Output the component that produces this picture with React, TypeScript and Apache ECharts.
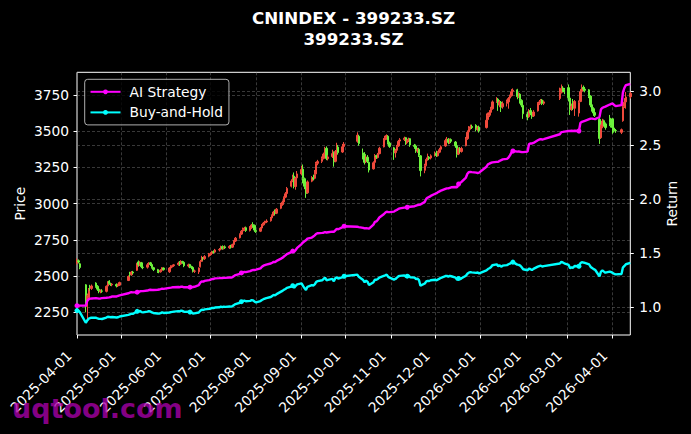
import React, { useEffect, useRef } from "react";
import * as echarts from "echarts";

const FONT = '"DejaVu Sans", "Liberation Sans", sans-serif';
const UP = "#f04a3c";
const DOWN = "#6cf23c";

// trading days: [year-month, days]
const tradingDays: [string, number[]][] = [
  ["2025-04", [1, 2, 3, 7, 8, 9, 10, 11, 14, 15, 16, 17, 18, 21, 22, 23, 24, 25, 28, 29, 30]],
  ["2025-05", [6, 7, 8, 9, 12, 13, 14, 15, 16, 19, 20, 21, 22, 23, 26, 27, 28, 29, 30]],
  ["2025-06", [3, 4, 5, 6, 9, 10, 11, 12, 13, 16, 17, 18, 19, 20, 23, 24, 25, 26, 27, 30]],
  ["2025-07", [1, 2, 3, 4, 7, 8, 9, 10, 11, 14, 15, 16, 17, 18, 21, 22, 23, 24, 25, 28, 29, 30, 31]],
  ["2025-08", [1, 4, 5, 6, 7, 8, 11, 12, 13, 14, 15, 18, 19, 20, 21, 22, 25, 26, 27, 28, 29]],
  ["2025-09", [1, 2, 3, 4, 5, 8, 9, 10, 11, 12, 15, 16, 17, 18, 19, 22, 23, 24, 25, 26, 29, 30]],
  ["2025-10", [9, 10, 13, 14, 15, 16, 17, 20, 21, 22, 23, 24, 27, 28, 29, 30, 31]],
  ["2025-11", [3, 4, 5, 6, 7, 10, 11, 12, 13, 14, 17, 18, 19, 20, 21, 24, 25, 26, 27, 28]],
  ["2025-12", [1, 2, 3, 4, 5, 8, 9, 10, 11, 12, 15, 16, 17, 18, 19, 22, 23, 24, 25, 26, 29, 30, 31]],
  ["2026-01", [5, 6, 7, 8, 9, 12, 13, 14, 15, 16, 19, 20, 21, 22, 23, 26, 27, 28, 29, 30]],
  ["2026-02", [2, 3, 4, 5, 6, 9, 10, 11, 12, 13, 24, 25, 26, 27]],
  ["2026-03", [2, 3, 4, 5, 6, 9, 10, 11, 12, 13, 16, 17, 18, 19, 20, 23, 24, 25, 26, 27, 30, 31]],
  ["2026-04", [1, 2, 3, 7, 8, 9, 10, 13]],
];

// [open, close, low, high]
const ohlc: number[][] = [
  [2590,2605,2580,2622],[2606,2598,2588,2615],[2585,2560,2548,2592],[2440,2300,2250,2445],[2290,2365,2200,2380],
  [2350,2405,2330,2418],[2425,2420,2400,2440],[2415,2432,2405,2442],[2452,2428,2420,2458],[2430,2410,2398,2438],
  [2410,2398,2382,2418],[2392,2398,2382,2408],[2398,2396,2385,2410],[2395,2430,2388,2436],[2432,2452,2428,2465],
  [2466,2448,2440,2472],[2446,2440,2432,2455],[2440,2445,2430,2452],[2442,2432,2422,2450],[2432,2440,2425,2448],
  [2438,2456,2432,2462],
  [2470,2498,2466,2505],[2512,2508,2496,2530],[2510,2528,2502,2535],[2528,2522,2512,2536],[2540,2585,2536,2592],
  [2598,2580,2565,2608],[2578,2595,2570,2602],[2592,2565,2555,2598],[2562,2560,2548,2570],[2562,2578,2552,2590],
  [2580,2590,2572,2596],[2592,2582,2570,2598],[2580,2560,2552,2585],[2558,2545,2535,2564],[2545,2532,2522,2550],
  [2532,2530,2520,2542],[2530,2540,2524,2548],[2540,2558,2532,2562],[2556,2545,2538,2560],
  [2530,2556,2522,2562],[2556,2568,2550,2575],[2568,2572,2560,2580],[2572,2578,2565,2584],[2580,2590,2572,2600],
  [2592,2582,2570,2604],[2584,2602,2578,2610],[2600,2596,2585,2606],[2595,2572,2562,2600],[2570,2578,2560,2586],
  [2580,2566,2555,2585],[2565,2560,2548,2572],[2560,2532,2525,2566],[2534,2535,2522,2545],[2530,2556,2515,2560],
  [2565,2600,2560,2612],[2602,2625,2598,2640],[2625,2618,2608,2632],[2620,2635,2612,2645],[2638,2648,2630,2660],
  [2648,2655,2640,2665],[2656,2668,2648,2675],[2668,2665,2655,2678],[2666,2680,2660,2688],[2680,2684,2670,2694],
  [2686,2702,2680,2710],[2704,2690,2682,2712],[2690,2700,2684,2708],[2702,2696,2688,2712],[2696,2705,2688,2714],
  [2706,2700,2690,2716],[2700,2718,2694,2724],[2718,2742,2714,2748],[2742,2762,2736,2770],[2765,2788,2760,2795],
  [2790,2810,2784,2818],[2812,2820,2800,2835],[2820,2832,2812,2840],[2834,2815,2805,2842],[2815,2832,2808,2845],
  [2834,2852,2826,2860],[2856,2848,2835,2872],[2850,2818,2805,2856],
  [2815,2808,2798,2825],[2810,2830,2804,2838],[2832,2852,2826,2860],[2854,2866,2848,2874],[2866,2872,2858,2882],
  [2874,2880,2866,2892],[2882,2900,2876,2908],[2902,2918,2896,2926],[2920,2942,2914,2950],[2945,2932,2920,2960],
  [2934,2962,2928,2970],[2968,2992,2962,3005],[2994,3010,2985,3022],[3012,3042,3005,3050],[3045,3068,3038,3080],
  [3070,3105,3062,3115],[3120,3155,3112,3168],[3158,3180,3148,3200],[3190,3120,3105,3215],[3118,3175,3096,3185],
  [3178,3205,3170,3225],
  [3205,3235,3195,3262],[3238,3175,3140,3270],[3172,3120,3100,3180],[3118,3070,3040,3130],[3075,3150,3068,3160],
  [3155,3178,3148,3190],[3180,3170,3160,3200],[3175,3200,3168,3232],[3205,3275,3200,3288],[3278,3290,3265,3302],
  [3292,3310,3280,3325],[3312,3342,3305,3352],[3345,3378,3338,3392],[3382,3312,3300,3395],[3310,3322,3298,3335],
  [3325,3345,3315,3372],[3350,3288,3255,3360],[3292,3360,3285,3370],[3365,3385,3355,3420],[3390,3352,3338,3405],
  [3356,3392,3350,3412],[3395,3410,3385,3425],
  [3430,3472,3420,3492],[3465,3415,3400,3475],[3350,3335,3305,3380],[3340,3285,3270,3355],[3288,3322,3280,3332],
  [3320,3292,3280,3335],[3285,3232,3215,3290],[3240,3282,3235,3292],[3285,3332,3280,3342],[3330,3322,3308,3338],
  [3318,3342,3312,3350],[3345,3382,3340,3392],[3392,3438,3388,3452],[3440,3452,3430,3468],[3455,3470,3440,3478],
  [3465,3420,3408,3472],[3418,3395,3385,3428],
  [3385,3350,3302,3392],[3352,3365,3318,3378],[3368,3395,3360,3405],[3398,3430,3392,3440],[3432,3440,3422,3452],
  [3442,3452,3432,3462],[3455,3420,3405,3460],[3420,3432,3410,3442],[3435,3445,3425,3455],[3448,3405,3392,3452],
  [3402,3395,3378,3412],[3398,3362,3350,3408],[3365,3372,3350,3385],[3375,3335,3322,3385],[3330,3228,3188,3335],
  [3230,3262,3210,3275],[3265,3305,3258,3318],[3308,3318,3296,3345],[3320,3312,3300,3328],[3315,3330,3305,3340],
  [3335,3345,3325,3360],[3348,3332,3322,3365],[3330,3352,3325,3362],[3355,3372,3348,3385],[3375,3392,3368,3402],
  [3398,3435,3392,3448],[3438,3442,3425,3460],[3445,3422,3410,3452],[3420,3440,3412,3448],[3442,3430,3418,3450],
  [3425,3398,3385,3432],[3400,3340,3318,3405],[3342,3378,3335,3388],[3380,3362,3350,3390],[3360,3380,3352,3392],
  [3400,3445,3395,3460],[3448,3492,3440,3505],[3495,3520,3488,3535],[3522,3530,3510,3545],[3532,3525,3515,3545],
  [3540,3512,3498,3548],[3515,3522,3502,3535],[3528,3502,3490,3538],
  [3525,3575,3518,3622],[3580,3608,3570,3628],[3610,3628,3598,3645],[3630,3652,3620,3668],[3655,3702,3648,3712],
  [3705,3722,3695,3735],[3720,3680,3640,3728],[3682,3702,3665,3715],[3700,3665,3632,3708],[3668,3690,3655,3705],
  [3692,3705,3670,3718],[3702,3725,3655,3735],[3728,3742,3715,3752],[3745,3772,3738,3790],[3775,3782,3765,3795],
  [3785,3738,3720,3792],[3740,3758,3730,3768],[3755,3715,3690,3762],[3712,3680,3665,3720],[3678,3620,3585,3690],
  [3615,3598,3575,3635],[3600,3640,3592,3652],[3642,3625,3610,3660],[3628,3602,3585,3640],[3605,3632,3598,3645],
  [3640,3688,3635,3700],[3690,3702,3680,3715],[3705,3712,3695,3722],[3715,3690,3680,3722],[3692,3702,3680,3712],
  [3725,3765,3715,3800],[3768,3795,3760,3822],[3798,3785,3770,3810],[3785,3770,3755,3798],
  [3800,3730,3705,3822],[3728,3650,3612,3735],[3652,3672,3640,3690],[3700,3660,3645,3722],[3658,3705,3605,3715],
  [3625,3698,3600,3712],[3705,3772,3700,3790],[3775,3800,3765,3822],[3802,3790,3775,3815],[3790,3782,3768,3805],
  [3785,3740,3728,3790],[3742,3680,3665,3748],[3682,3652,3635,3690],[3655,3625,3605,3665],[3628,3610,3598,3640],
  [3582,3450,3412,3590],[3455,3530,3448,3545],[3532,3570,3520,3585],[3572,3548,3535,3580],[3550,3525,3510,3560],
  [3590,3560,3535,3612],[3565,3540,3525,3575],
  [3585,3525,3482,3590],[3522,3505,3490,3530],[3505,3502,3488,3515],[3492,3510,3480,3518],[3572,3668,3565,3720],
  [3672,3700,3660,3728],[3702,3735,3655,3770],[3738,3760,3725,3772],
];

const aiStrategy: number[] = [
  1.015,1.015,1.016,1.016,1.060,1.075,1.080,1.082,1.085,1.083,1.080,1.082,1.085,1.088,1.090,1.092,1.095,1.100,1.100,1.105,1.110,
  1.130,1.135,1.140,1.138,1.140,1.142,1.148,1.150,1.150,1.155,1.160,1.162,1.160,1.160,1.162,1.165,1.168,1.172,1.170,
  1.180,1.182,1.185,1.185,1.188,1.186,1.190,1.190,1.185,1.185,1.186,1.186,1.188,1.190,1.205,1.228,1.240,1.238,1.245,1.252,
  1.255,1.262,1.262,1.268,1.270,1.272,1.270,1.272,1.272,1.275,1.275,1.280,1.290,1.298,1.310,1.318,1.322,1.328,1.325,1.335,1.342,1.345,1.345,
  1.348,1.360,1.375,1.385,1.390,1.395,1.405,1.412,1.420,1.418,1.430,1.450,1.458,1.470,1.480,1.492,1.510,1.520,1.515,1.530,1.550,
  1.585,1.600,1.610,1.620,1.635,1.645,1.655,1.665,1.680,1.685,1.688,1.690,1.695,1.692,1.694,1.700,1.698,1.712,1.725,1.722,1.742,1.750,
  1.745,1.742,1.735,1.730,1.732,1.730,1.728,1.765,1.790,1.795,1.810,1.830,1.860,1.875,1.885,1.880,1.880,
  1.885,1.895,1.900,1.910,1.915,1.922,1.922,1.925,1.930,1.930,1.935,1.940,1.945,1.948,1.950,1.975,2.005,2.015,2.020,2.030,
  2.050,2.055,2.065,2.072,2.080,2.095,2.100,2.100,2.105,2.110,2.112,2.110,2.140,2.150,2.160,2.200,2.235,2.250,2.252,2.250,2.245,2.242,2.245,
  2.300,2.322,2.328,2.335,2.340,2.345,2.345,2.355,2.360,2.368,2.372,2.385,2.405,2.430,2.445,2.440,2.442,2.438,2.435,2.435,
  2.440,2.510,2.515,2.515,2.520,2.545,2.552,2.555,2.552,2.555,2.600,2.620,2.622,2.625,
  2.630,2.630,2.632,2.630,2.632,2.630,2.705,2.715,2.720,2.725,2.740,2.745,2.745,2.742,2.740,2.760,2.830,2.845,2.850,2.855,2.875,2.880,
  2.885,2.870,2.860,2.870,2.990,3.030,3.055,3.065,
];

const buyHold: number[] = [
  .970,.968,.953,.857,.879,.895,.901,.905,.904,.897,.893,.893,.892,.905,.913,.911,.908,.910,.906,.908,.915,
  .930,.934,.942,.939,.963,.961,.966,.955,.953,.960,.965,.962,.953,.948,.943,.942,.946,.953,.948,
  .952,.956,.958,.960,.965,.962,.969,.967,.958,.960,.956,.953,.943,.944,.952,.968,.978,.975,.981,.986,
  .989,.994,.993,.998,1.000,1.006,1.002,1.006,1.004,1.007,1.006,1.012,1.022,1.030,1.042,1.052,1.058,1.062,1.056,1.060,1.066,1.064,1.052,
  1.046,1.058,1.068,1.075,1.080,1.085,1.095,1.105,1.115,1.110,1.122,1.145,1.152,1.162,1.170,1.180,1.192,1.200,1.180,1.198,1.212,
  1.222,1.198,1.178,1.160,1.190,1.205,1.202,1.212,1.236,1.242,1.250,1.262,1.275,1.250,1.254,1.263,1.241,1.268,1.278,1.265,1.280,1.287,
  1.302,1.282,1.252,1.232,1.246,1.235,1.207,1.232,1.255,1.255,1.262,1.275,1.290,1.295,1.302,1.283,1.274,
  1.257,1.262,1.274,1.287,1.291,1.295,1.283,1.288,1.293,1.278,1.274,1.262,1.266,1.252,1.200,1.220,1.240,1.245,1.243,1.250,
  1.255,1.250,1.258,1.265,1.273,1.289,1.291,1.284,1.291,1.287,1.275,1.253,1.267,1.261,1.268,1.292,1.310,1.321,1.325,1.323,1.318,1.322,1.314,
  1.342,1.354,1.361,1.370,1.389,1.397,1.381,1.389,1.375,1.385,1.390,1.398,1.404,1.412,1.418,1.395,1.392,1.385,1.370,1.352,
  1.343,1.358,1.353,1.344,1.355,1.376,1.381,1.385,1.377,1.381,1.405,1.420,1.415,1.407,
  1.392,1.362,1.370,1.366,1.382,1.380,1.407,1.418,1.414,1.411,1.396,1.373,1.363,1.353,1.347,1.287,1.330,1.340,1.330,1.320,1.330,1.325,
  1.318,1.310,1.305,1.308,1.370,1.382,1.398,1.410,
];

const xTickLabels = [
  "2025-04-01", "2025-05-01", "2025-06-01", "2025-07-01", "2025-08-01", "2025-09-01", "2025-10-01",
  "2025-11-01", "2025-12-01", "2026-01-01", "2026-02-01", "2026-03-01", "2026-04-01",
];
const priceTicks = [2250, 2500, 2750, 3000, 3250, 3500, 3750];
const returnTicks = [1.0, 1.5, 2.0, 2.5, 3.0];

const X_MIN = "2025-04-01";
const X_MAX = "2026-04-13";

function ts(s: string): number {
  const [y, m, d] = s.split("-").map(Number);
  return new Date(y, m - 1, d).getTime();
}
const pad = (n: number) => (n < 10 ? "0" + n : "" + n);
function fmt(v: number): string {
  const d = new Date(v);
  return `${d.getFullYear()}-${pad(d.getMonth() + 1)}-${pad(d.getDate())}`;
}

export default function App() {
  const ref = useRef<HTMLDivElement>(null);

  useEffect(() => {
    if (!ref.current) return;
    const chart = echarts.init(ref.current, undefined, { renderer: "svg" });

    const dates: number[] = [];
    tradingDays.forEach(([ym, days]) => days.forEach((d) => dates.push(ts(`${ym}-${d}`))));

    const candleData = dates.map((t, i) => [t, ...ohlc[i]]);
    const mk = (arr: number[]) =>
      dates.map((t, i) => ({ value: [t, arr[i]], symbol: i % 25 === 0 ? "circle" : "none" }));

    const grid = "rgba(128,128,128,0.55)";
    const monthTicks = xTickLabels.map(ts);

    chart.setOption({
      animation: false,
      backgroundColor: "#000",
      textStyle: { fontFamily: FONT },
      grid: {
        left: 77, top: 72.3, width: 553.3, height: 262.7,
        show: true, borderColor: "#fff", borderWidth: 1, backgroundColor: "transparent",
      },
      legend: {
        data: ["AI Strategy", "Buy-and-Hold"],
        left: 84.7, top: 79.3, orient: "vertical",
        itemWidth: 30, itemHeight: 6, itemGap: 4.6,
        padding: [4.5, 6, 4.5, 4.8],
        backgroundColor: "rgba(0,0,0,0.8)",
        borderColor: "rgba(204,204,204,0.85)", borderWidth: 1, borderRadius: 3,
        textStyle: { color: "#fff", fontSize: 13.8, fontFamily: FONT, lineHeight: 16, padding: [0, 0, 0, 4] },
      },
      xAxis: {
        type: "value",
        min: ts(X_MIN), max: ts(X_MAX),
        axisLine: { show: false },
        axisTick: { show: true, length: 3.5, lineStyle: { color: "#fff", width: 1 }, customValues: monthTicks },
        axisLabel: {
          customValues: monthTicks, rotate: 45, margin: 10.5, padding: [0, 11, 0, 0], color: "#fff",
          fontSize: 13.8, fontFamily: FONT, formatter: (v: number) => fmt(v),
        },
        splitLine: { show: true, lineStyle: { color: grid, type: [3, 2], width: 0.8 } },
      },
      yAxis: [
        {
          type: "value", position: "left", min: 2094, max: 3906,
          name: "Price", nameLocation: "middle", nameRotate: 90, nameGap: 50, nameMoveOverlap: false,
          nameTextStyle: { color: "#fff", fontSize: 13.8, fontFamily: FONT },
          axisLine: { show: false },
          axisTick: { show: true, length: 3.5, lineStyle: { color: "#fff" }, customValues: priceTicks },
          axisLabel: {
            customValues: priceTicks, color: "#fff", fontSize: 13.8, fontFamily: FONT, margin: 8,
            formatter: (v: number) => String(v),
          },
          splitLine: { show: true, lineStyle: { color: grid, type: [3, 2], width: 0.8 } },
        },
        {
          type: "value", position: "right", min: 0.744, max: 3.173,
          name: "Return", nameLocation: "middle", nameRotate: 90, nameGap: 35, nameMoveOverlap: false,
          nameTextStyle: { color: "#fff", fontSize: 13.8, fontFamily: FONT },
          axisLine: { show: false },
          axisTick: { show: true, length: 3.5, lineStyle: { color: "#fff" }, customValues: returnTicks },
          axisLabel: {
            customValues: returnTicks, color: "#fff", fontSize: 13.8, fontFamily: FONT, margin: 9,
            formatter: (v: number) => v.toFixed(1),
          },
          splitLine: { show: true, lineStyle: { color: grid, type: [3, 2], width: 0.8 } },
        },
      ],
      series: [
        {
          type: "candlestick", name: "Price", xAxisIndex: 0, yAxisIndex: 0,
          data: candleData, encode: { x: 0, y: [1, 2, 3, 4] },
          barWidth: 1.9,
          itemStyle: { color: UP, color0: DOWN, borderColor: UP, borderColor0: DOWN, borderWidth: 1 },
          z: 2,
        },
        {
          type: "line", name: "AI Strategy", yAxisIndex: 1, data: mk(aiStrategy),
          symbol: "circle", symbolSize: 5, showSymbol: true,
          lineStyle: { color: "#ff00ff", width: 2.4 }, itemStyle: { color: "#ff00ff" }, z: 4,
        },
        {
          type: "line", name: "Buy-and-Hold", yAxisIndex: 1, data: mk(buyHold),
          symbol: "circle", symbolSize: 5, showSymbol: true,
          lineStyle: { color: "#00ffff", width: 2.4 }, itemStyle: { color: "#00ffff" }, z: 4,
        },
      ],
      graphic: [
        {
          type: "text", x: 353.5, y: 18.3, z: 10,
          style: {
            text: "CNINDEX - 399233.SZ", fill: "#fff", font: `bold 16.7px ${FONT}`,
            textAlign: "center", textVerticalAlign: "middle", align: "center", verticalAlign: "middle",
          },
        },
        {
          type: "text", x: 353.5, y: 39.3, z: 10,
          style: {
            text: "399233.SZ", fill: "#fff", font: `bold 16.7px ${FONT}`,
            textAlign: "center", textVerticalAlign: "middle", align: "center", verticalAlign: "middle",
          },
        },
        {
          type: "text", x: 12, y: 408, z: 100,
          style: {
            text: "uqtool.com", fill: "rgba(170,0,170,0.78)", font: `bold 27px ${FONT}`,
            textAlign: "left", textVerticalAlign: "middle", align: "left", verticalAlign: "middle",
          },
        },
      ],
    });

    return () => chart.dispose();
  }, []);

  return (
    <div
      ref={ref}
      style={{ position: "fixed", left: 0, top: 0, width: 691, height: 434, background: "#000" }}
    />
  );
}
